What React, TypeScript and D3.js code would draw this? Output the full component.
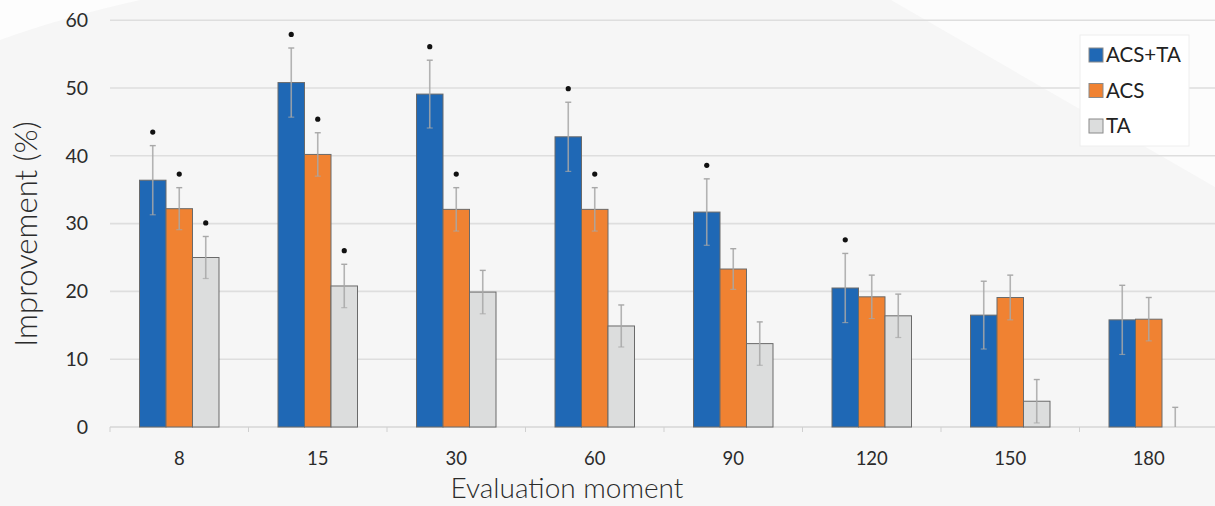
import React from "react";
import * as d3 from "d3";

const categories = ["8", "15", "30", "60", "90", "120", "150", "180"];
const seriesNames = ["ACS+TA", "ACS", "TA"];
const acsTa = [36.4, 50.8, 49.1, 42.8, 31.7, 20.5, 16.5, 15.8];
const acs = [32.2, 40.2, 32.1, 32.1, 23.3, 19.2, 19.1, 15.9];
const ta = [25.0, 20.8, 19.9, 14.9, 12.3, 16.4, 3.8, 0];
const acsTaErr = [5.1, 5.1, 5.0, 5.1, 4.9, 5.1, 5.0, 5.1];
const acsErr = [3.1, 3.2, 3.2, 3.2, 3.0, 3.2, 3.3, 3.2];
const taErr = [3.1, 3.2, 3.2, 3.1, 3.2, 3.2, 3.2, 2.9];
const acsTaSig = [1, 1, 1, 1, 1, 1, 0, 0];
const acsSig = [1, 1, 1, 1, 0, 0, 0, 0];
const taSig = [1, 1, 0, 0, 0, 0, 0, 0];
const yTicks = [0, 10, 20, 30, 40, 50, 60];
const colors = ["#1F68B5", "#F08232", "#DCDDDD"];

const W = 1215;
const H = 506;

export default function App() {
  const x = d3.scaleBand<string>().domain(categories).range([110, 1218]).padding(0);
  const bw = x.bandwidth();
  const inner = d3
    .scaleBand<string>()
    .domain(seriesNames)
    .range([bw * 0.213, bw * 0.787])
    .padding(0);
  const y = d3.scaleLinear().domain([0, 60]).range([427, 20.2]);

  const vals = [acsTa, acs, ta];
  const errs = [acsTaErr, acsErr, taErr];
  const sigs = [acsTaSig, acsSig, taSig];
  const font = "Lato, 'Open Sans', sans-serif";

  return (
    <svg width={W} height={H} style={{ position: "absolute", left: 0, top: 0, display: "block" }}>
      <rect x={0} y={0} width={W} height={H} fill="#f6f6f6" />
      <path d="M0,0 L140,0 Q60,18 0,40 Z" fill="#fdfdfd" />
      <path d="M891,0 L1215,0 L1215,187 Z" fill="#fcfcfc" />
      {yTicks.map((t) => (
        <g key={t}>
          {t > 0 && (
            <line x1={110} x2={W} y1={y(t)} y2={y(t)} stroke="#dedede" strokeWidth={1.6} />
          )}
          <text
            x={88}
            y={y(t)}
            dy="0.35em"
            textAnchor="end"
            fontFamily={font}
            fontSize={19.5}
            fill="#2b2b2b"
          >
            {t}
          </text>
        </g>
      ))}
      <line x1={110} x2={W} y1={y(0)} y2={y(0)} stroke="#d6d6d6" strokeWidth={1.6} />
      {categories.map((c) => (
        <g key={c}>
          <line
            x1={x(c)!}
            x2={x(c)!}
            y1={y(0)}
            y2={y(0) + 5}
            stroke="#d0d0d0"
            strokeWidth={1}
          />
          <text
            x={x(c)! + bw / 2}
            y={465}
            textAnchor="middle"
            fontFamily={font}
            fontSize={18.5}
            fill="#2b2b2b"
          >
            {c}
          </text>
        </g>
      ))}
      {categories.map((c, i) =>
        seriesNames.map((s, k) => {
          const v = vals[k][i];
          const bx = x(c)! + inner(s)!;
          const w = inner.bandwidth();
          const cx = bx + w / 2;
          const e = errs[k][i];
          return (
            <g key={c + s}>
              {v > 0 && (
                <rect
                  x={bx}
                  y={y(v)}
                  width={w}
                  height={y(0) - y(v)}
                  fill={colors[k]}
                  stroke="#6a6a6a"
                  strokeWidth={1}
                />
              )}
              <line
                x1={cx}
                x2={cx}
                y1={y(v + e)}
                y2={y(Math.max(0, v - e))}
                stroke="#a8a8a8"
                strokeWidth={1.6}
                opacity={0.85}
              />
              <line x1={cx - 3} x2={cx + 3} y1={y(v + e)} y2={y(v + e)} stroke="#a8a8a8" strokeWidth={1.4} />
              {v - e > 0 && (
                <line
                  x1={cx - 3}
                  x2={cx + 3}
                  y1={y(v - e)}
                  y2={y(v - e)}
                  stroke="#a8a8a8"
                  strokeWidth={1.2}
                  opacity={0.7}
                />
              )}
              {sigs[k][i] === 1 && <circle cx={cx} cy={y(v + e + 2)} r={2.6} fill="#111" />}
            </g>
          );
        })
      )}
      <text
        transform={`translate(37,234) rotate(-90)`}
        textAnchor="middle"
        fontFamily={font}
        fontWeight={300}
        fontSize={31}
        fill="#2b2b2b"
      >
        Improvement (%)
      </text>
      <text
        x={567}
        y={498}
        textAnchor="middle"
        fontFamily={font}
        fontWeight={300}
        fontSize={28}
        fill="#2b2b2b"
      >
        Evaluation moment
      </text>
      <rect x={1080} y={35} width={109} height={111} fill="#ffffff" stroke="#eeeeee" strokeWidth={1} />
      {seriesNames.map((s, k) => (
        <g key={s} transform={`translate(1089,${48 + k * 35.5})`}>
          <rect x={0} y={0} width={14} height={14} fill={colors[k]} stroke="#8a8a8a" strokeWidth={1} />
          <text x={17} y={7} dy="0.36em" fontFamily={font} fontSize={20.5} fill="#222">
            {s}
          </text>
        </g>
      ))}
    </svg>
  );
}
